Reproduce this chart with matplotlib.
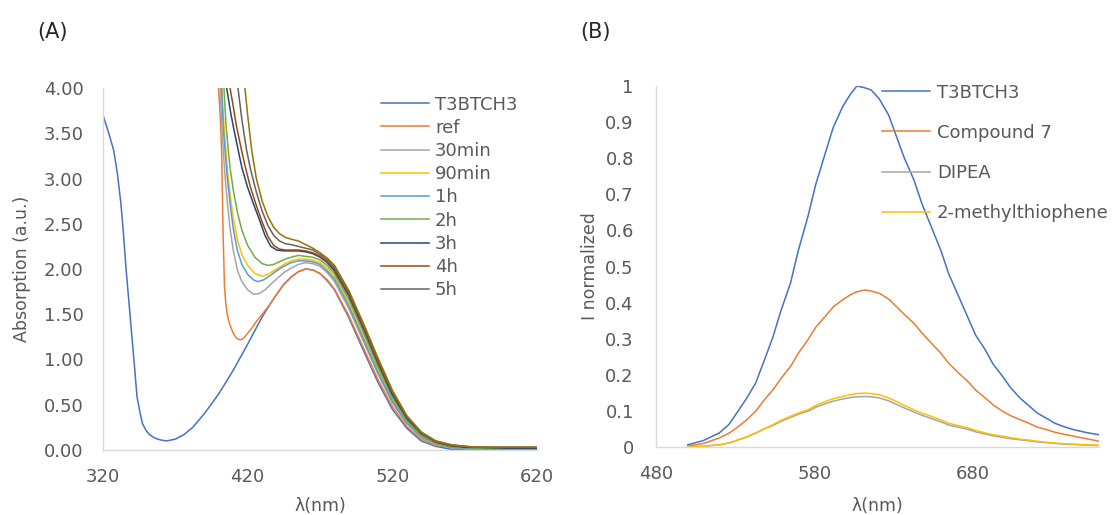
import matplotlib
matplotlib.use("Agg")
import matplotlib.pyplot as plt
import numpy as np

plt.rcParams['font.family'] = ['DejaVu Sans']
TXT = '#595959'
AXC = '#D9D9D9'

# ---------------- (A) UV-vis absorption ----------------
wl_t3 = [320, 324, 327.4, 330, 332.4, 334, 336, 338, 340, 342, 343.5, 345.5, 347.3, 350, 352.2, 356,
         360, 364, 370, 376, 382, 390, 400, 410, 420, 430, 435, 440, 445, 450, 455, 460, 465, 470,
         475, 480, 490, 500, 510, 520, 530, 540, 550, 560, 570, 580, 600, 620]
abs_t3 = [3.70, 3.50, 3.31, 3.05, 2.72, 2.42, 1.99, 1.62, 1.25, 0.88, 0.59, 0.42, 0.29, 0.21, 0.17, 0.13,
          0.11, 0.10, 0.12, 0.17, 0.25, 0.40, 0.62, 0.88, 1.17, 1.47, 1.60, 1.72, 1.83, 1.91, 1.97, 2.00,
          1.99, 1.95, 1.87, 1.77, 1.46, 1.10, 0.75, 0.45, 0.24, 0.10, 0.04, 0.01, 0.0, 0.0, 0.0, 0.0]

# right-hand side shared wavelengths
wl_tail = [465, 470, 475, 480, 490, 500, 510, 520, 530, 540, 550, 560, 570, 580, 600, 620]

wl_ref = [399.5, 400, 401, 402, 403, 404, 405, 406, 407, 408, 410, 412, 414, 416, 418, 420, 423, 426,
          429, 432, 435, 440, 445, 450, 455, 460] + wl_tail
abs_ref = [4.1, 3.95, 3.7, 3.3, 2.4, 1.8, 1.6, 1.49, 1.42, 1.37, 1.29, 1.24, 1.22, 1.22, 1.25, 1.29, 1.35, 1.42,
           1.48, 1.54, 1.60, 1.72, 1.83, 1.91, 1.97, 2.00,
           1.99, 1.95, 1.88, 1.78, 1.48, 1.13, 0.78, 0.48, 0.26, 0.12, 0.05, 0.03, 0.02, 0.02, 0.02, 0.02]

wl_30 = [400, 401, 402, 403, 404, 406, 408, 410, 413, 416, 420, 424, 428, 432, 436, 440,
         445, 450, 455, 460] + wl_tail
abs_30 = [4.5, 4.0, 3.62, 3.35, 3.1, 2.72, 2.43, 2.21, 1.98, 1.86, 1.77, 1.72, 1.73, 1.77, 1.83, 1.89,
          1.96, 2.01, 2.05, 2.07,
          2.06, 2.03, 1.96, 1.86, 1.56, 1.20, 0.84, 0.52, 0.29, 0.14, 0.06, 0.03, 0.02, 0.02, 0.02, 0.02]

wl_90 = [401, 402.2, 403, 404, 406, 408, 410, 413, 416, 420, 425, 430, 434, 438, 442, 446,
         450, 455, 460] + wl_tail
abs_90 = [4.6, 4.0, 3.75, 3.5, 3.1, 2.8, 2.57, 2.32, 2.16, 2.04, 1.95, 1.92, 1.94, 1.98, 2.02, 2.06,
          2.09, 2.11, 2.11,
          2.10, 2.07, 2.01, 1.92, 1.62, 1.26, 0.89, 0.56, 0.31, 0.15, 0.07, 0.04, 0.02, 0.02, 0.02, 0.02]

wl_1h = [401, 402, 403, 404, 406, 408, 410, 413, 416, 420, 424, 427, 431, 435, 440, 445,
         450, 455, 460] + wl_tail
abs_1h = [4.5, 4.0, 3.6, 3.38, 3.0, 2.7, 2.45, 2.2, 2.05, 1.94, 1.88, 1.86, 1.88, 1.92, 1.98, 2.03,
          2.07, 2.09, 2.09,
          2.08, 2.05, 1.98, 1.89, 1.59, 1.23, 0.86, 0.54, 0.30, 0.15, 0.07, 0.03, 0.02, 0.02, 0.02, 0.02]

wl_2h = [403, 403.6, 405, 406.6, 408, 410, 413, 416, 420, 425, 430, 434, 438, 442, 446, 450,
         455, 460] + wl_tail
abs_2h = [4.3, 4.0, 3.6, 3.31, 3.1, 2.88, 2.62, 2.43, 2.26, 2.13, 2.06, 2.04, 2.05, 2.08, 2.11, 2.13,
          2.15, 2.14,
          2.13, 2.10, 2.04, 1.95, 1.66, 1.30, 0.92, 0.58, 0.33, 0.16, 0.08, 0.04, 0.03, 0.02, 0.02, 0.02]

wl_3h = [405, 405.5, 408, 410, 413.5, 416, 420, 424, 428, 432, 436, 440, 445, 450, 455, 460] + wl_tail
abs_3h = [4.15, 4.0, 3.75, 3.58, 3.31, 3.12, 2.9, 2.72, 2.55, 2.37, 2.25, 2.21, 2.20, 2.20, 2.20, 2.19,
          2.17, 2.13, 2.07, 1.98, 1.70, 1.34, 0.96, 0.61, 0.35, 0.18, 0.09, 0.05, 0.03, 0.03, 0.02, 0.02]

wl_4h = [407, 407.8, 410, 412, 415.8, 418, 422, 426, 430, 434, 438, 442, 446, 450, 455, 460] + wl_tail
abs_4h = [4.15, 4.0, 3.8, 3.6, 3.31, 3.15, 2.9, 2.7, 2.52, 2.36, 2.26, 2.22, 2.21, 2.21, 2.21, 2.20,
          2.18, 2.14, 2.08, 2.00, 1.72, 1.36, 0.98, 0.63, 0.36, 0.19, 0.09, 0.05, 0.04, 0.03, 0.03, 0.03]

wl_5h = [412, 413.3, 416, 419.3, 422, 426, 430, 434, 438, 442, 446, 450, 455, 460] + wl_tail
abs_5h = [4.2, 4.0, 3.65, 3.31, 3.1, 2.85, 2.64, 2.48, 2.37, 2.31, 2.28, 2.27, 2.25, 2.23,
          2.21, 2.16, 2.10, 2.02, 1.74, 1.38, 1.00, 0.65, 0.37, 0.19, 0.10, 0.06, 0.04, 0.03, 0.03, 0.03]

wl_6h = [417, 418.1, 420, 422.8, 426, 430, 434, 438, 442, 446, 450, 455, 460] + wl_tail
abs_6h = [4.2, 4.0, 3.7, 3.31, 3.0, 2.75, 2.58, 2.46, 2.39, 2.35, 2.33, 2.31, 2.27,
          2.23, 2.18, 2.12, 2.04, 1.76, 1.40, 1.02, 0.66, 0.38, 0.20, 0.10, 0.06, 0.04, 0.03, 0.03, 0.03]

# ---------------- (B) emission ----------------
wl_em = [500, 510, 520, 526, 531, 537, 543, 548, 554, 559, 565, 570, 576, 581, 587, 592, 598, 603,
         607, 612, 616, 621, 627, 632, 637, 643, 648, 654, 660, 665, 671, 677, 682, 688, 693, 699,
         704, 710, 716, 721, 727, 732, 738, 744, 752, 760]
em_t3 = [0.006, 0.018, 0.039, 0.062, 0.094, 0.133, 0.177, 0.235, 0.306, 0.378, 0.454, 0.545, 0.638, 0.728,
         0.814, 0.885, 0.943, 0.978, 1.0, 0.995, 0.989, 0.965, 0.92, 0.86, 0.80, 0.74, 0.675, 0.61,
         0.545, 0.48, 0.42, 0.36, 0.31, 0.27, 0.23, 0.196, 0.165, 0.136, 0.113, 0.094, 0.079, 0.066,
         0.056, 0.048, 0.040, 0.034]
em_c7 = [0.002, 0.010, 0.025, 0.038, 0.053, 0.074, 0.099, 0.128, 0.159, 0.190, 0.223, 0.260, 0.297, 0.332,
         0.362, 0.388, 0.408, 0.422, 0.430, 0.435, 0.432, 0.426, 0.410, 0.389, 0.367, 0.343, 0.316, 0.288,
         0.260, 0.232, 0.206, 0.182, 0.158, 0.136, 0.117, 0.099, 0.087, 0.076, 0.065, 0.055, 0.048, 0.041,
         0.035, 0.030, 0.023, 0.016]
em_dipea = [0.0, 0.002, 0.006, 0.011, 0.018, 0.027, 0.038, 0.049, 0.060, 0.071, 0.082, 0.091, 0.099, 0.110,
            0.120, 0.127, 0.133, 0.137, 0.139, 0.140, 0.139, 0.136, 0.128, 0.118, 0.108, 0.097, 0.088, 0.079,
            0.070, 0.061, 0.055, 0.049, 0.042, 0.036, 0.031, 0.027, 0.023, 0.020, 0.017, 0.014, 0.012, 0.010,
            0.008, 0.007, 0.005, 0.004]
em_mt = [0.0, 0.002, 0.006, 0.011, 0.018, 0.028, 0.039, 0.050, 0.062, 0.074, 0.085, 0.094, 0.103, 0.115,
         0.126, 0.134, 0.140, 0.145, 0.148, 0.149, 0.148, 0.145, 0.136, 0.126, 0.115, 0.103, 0.094, 0.085,
         0.075, 0.066, 0.059, 0.053, 0.046, 0.039, 0.034, 0.030, 0.026, 0.022, 0.019, 0.016, 0.013, 0.011,
         0.009, 0.008, 0.006, 0.005]

fig = plt.figure(figsize=(11.15, 5.15), dpi=100)
axA = fig.add_axes([103/1115, 65/515, 434/1115, 362/515])
axB = fig.add_axes([656/1115, 68/515, 443/1115, 361/515])

uv = [(wl_t3, abs_t3, '#4472C4', 'T3BTCH3'),
      (wl_ref, abs_ref, '#ED7D31', 'ref'),
      (wl_30, abs_30, '#A5A5A5', '30min'),
      (wl_90, abs_90, '#FFC000', '90min'),
      (wl_1h, abs_1h, '#5B9BD5', '1h'),
      (wl_2h, abs_2h, '#70AD47', '2h'),
      (wl_3h, abs_3h, '#264478', '3h'),
      (wl_4h, abs_4h, '#9E480E', '4h'),
      (wl_5h, abs_5h, '#636363', '5h'),
      (wl_6h, abs_6h, '#997300', '_nolegend_')]
for x, y, c, lab in uv:
    axA.plot(x, y, color=c, lw=1.1, label=lab)

axB.plot(wl_em, em_t3, color='#4472C4', lw=1.1, label='T3BTCH3')
axB.plot(wl_em, em_c7, color='#ED7D31', lw=1.1, label='Compound 7')
axB.plot(wl_em, em_dipea, color='#A5A5A5', lw=1.1, label='DIPEA')
axB.plot(wl_em, em_mt, color='#FFC000', lw=1.1, label='2-methylthiophene')

axA.set_xlim(320, 620)
axA.set_ylim(0, 4)
axA.set_xticks([320, 420, 520, 620])
axA.set_yticks(np.arange(0, 4.01, 0.5))
axA.set_yticklabels(['%.2f' % v for v in np.arange(0, 4.01, 0.5)])

axB.set_xlim(480, 760)
axB.set_ylim(0, 1)
axB.set_xticks([480, 580, 680])
axB.set_yticks(np.arange(0, 1.01, 0.1))
axB.set_yticklabels(['%g' % round(v, 1) for v in np.arange(0, 1.01, 0.1)])

for ax, ypad in ((axA, 14), (axB, 16)):
    for s in ('top', 'right'):
        ax.spines[s].set_visible(False)
    for s in ('left', 'bottom'):
        ax.spines[s].set_color(AXC)
        ax.spines[s].set_linewidth(1.0)
    ax.tick_params(axis='both', length=0, labelsize=13, labelcolor=TXT)
    ax.tick_params(axis='y', pad=ypad)
    ax.tick_params(axis='x', pad=13)

axA.set_xlabel('λ(nm)', fontsize=12.5, color=TXT)
axA.set_ylabel('Absorption (a.u.)', fontsize=12.5, color=TXT)
axA.xaxis.set_label_coords(0.5, -0.13)
axA.yaxis.set_label_coords(-0.165, 0.5)
axB.set_xlabel('λ(nm)', fontsize=12.5, color=TXT)
axB.set_ylabel('I normalized', fontsize=12.5, color=TXT)
axB.xaxis.set_label_coords(0.5, -0.138)
axB.yaxis.set_label_coords(-0.129, 0.5)

legA = axA.legend(loc='upper left', bbox_to_anchor=(381/1115, 1 - 95.5/515),
                  bbox_transform=fig.transFigure, frameon=False, fontsize=13,
                  handlelength=2.66, handletextpad=0.33, labelspacing=0.29,
                  borderpad=0, borderaxespad=0)
legB = axB.legend(loc='upper left', bbox_to_anchor=(882/1115, 1 - 83.5/515),
                  bbox_transform=fig.transFigure, frameon=False, fontsize=13,
                  handlelength=2.66, handletextpad=0.38, labelspacing=1.23,
                  borderpad=0, borderaxespad=0)
for leg in (legA, legB):
    for t in leg.get_texts():
        t.set_color(TXT)

fig.text(37/1115, 1 - 32/515, '(A)', fontsize=15, color='#262626', va='center')
fig.text(580/1115, 1 - 32/515, '(B)', fontsize=15, color='#262626', va='center')

fig.savefig('out.png', dpi=100)
